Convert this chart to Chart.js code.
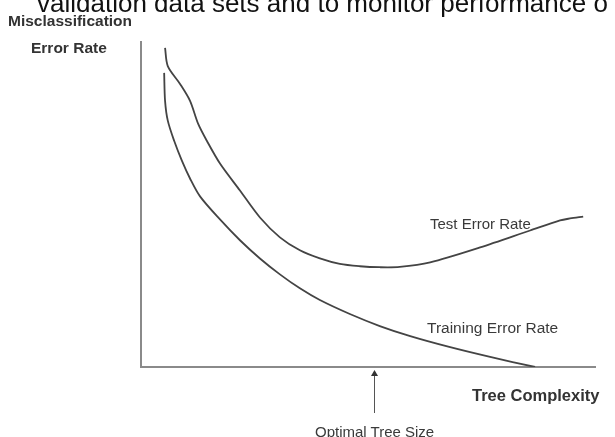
<!DOCTYPE html>
<html>
<head>
<meta charset="utf-8">
<script src="https://cdn.jsdelivr.net/npm/chart.js@4"></script>
<style>
  html, body { margin: 0; padding: 0; background: #fff; }
  #wrap { position: relative; width: 615px; height: 437px; overflow: hidden; font-family: "Liberation Sans", Arial, sans-serif; }
  #wrap canvas { position: absolute; left: 0; top: 0; }
  .lbl { position: absolute; white-space: nowrap; color: #3a3a3a; line-height: 1; }
  .axis { font-weight: bold; font-size: 15.5px; color: #333; }
</style>
</head>
<body>
<div id="wrap">
  <canvas id="errChart" width="615" height="437"></canvas>
  <div class="lbl" style="left:37px; top:-10px; font-size:26px; color:#111;">validation data sets and to monitor performance o</div>
  <div class="lbl axis" style="left:8px; top:13px;">Misclassification</div>
  <div class="lbl axis" style="left:31px; top:40px;">Error Rate</div>
  <div class="lbl axis" style="left:472px; top:387px; font-size:16.5px;">Tree Complexity</div>
  <div class="lbl" style="left:430px; top:216px; font-size:15px;">Test Error Rate</div>
  <div class="lbl" style="left:427px; top:320px; font-size:15.5px;">Training Error Rate</div>
  <div class="lbl" style="left:315px; top:424px; font-size:15px;">Optimal Tree Size</div>
</div>
<script>
// ---- data (complexity 0..100, error rate 0..100) ----
const testX  = [5.3, 5.9, 8.6, 10.8, 12.6, 14.5, 17.4, 21.8, 26.2, 30.6, 35.0, 39.4, 43.8, 48.2, 52.6, 57.0, 63.7, 74.7, 85.7, 92.3, 94.5, 97.4];
const testY  = [98.2, 92.6, 87.1, 81.9, 74.8, 69.6, 62.6, 54.3, 46.0, 39.9, 35.9, 33.4, 31.7, 31.0, 30.7, 30.8, 32.2, 36.8, 42.0, 45.1, 45.7, 46.3];
const trainX = [5.1, 5.3, 5.9, 7.3, 9.0, 10.8, 13.0, 17.4, 21.8, 26.2, 30.6, 35.0, 39.4, 46.0, 52.6, 59.3, 68.1, 76.9, 86.8];
const trainY = [90.5, 81.9, 75.8, 69.6, 63.5, 58.0, 52.5, 45.4, 39.0, 33.4, 28.5, 24.2, 20.6, 16.3, 12.6, 9.5, 6.1, 3.1, 0];
const optimalSize = 51.3;

const toPoints = (xs, ys) => xs.map((x, i) => ({ x: x, y: ys[i] }));

// arrow under the x axis marking the optimal size
const arrowPlugin = {
    id: 'optimalArrow',
    afterDraw(chart) {
        const ctx = chart.ctx;
        const x = Math.round(chart.scales.x.getPixelForValue(optimalSize)) + 0.5;
        const top = chart.chartArea.bottom + 3;
        ctx.save();
        ctx.strokeStyle = '#555';
        ctx.fillStyle = '#333';
        ctx.lineWidth = 1;
        ctx.beginPath();
        ctx.moveTo(x, top + 4);
        ctx.lineTo(x, top + 43);
        ctx.stroke();
        ctx.beginPath();
        ctx.moveTo(x, top);
        ctx.lineTo(x - 3.5, top + 6);
        ctx.lineTo(x + 3.5, top + 6);
        ctx.closePath();
        ctx.fill();
        ctx.restore();
    }
};

const lineStyle = {
    borderColor: '#444',
    borderWidth: 1.8,
    pointRadius: 0,
    fill: false,
    tension: 0.3
};

new Chart(document.getElementById('errChart').getContext('2d'), {
    type: 'line',
    data: {
        datasets: [
            Object.assign({ label: 'Test Error Rate', data: toPoints(testX, testY) }, lineStyle),
            Object.assign({ label: 'Training Error Rate', data: toPoints(trainX, trainY) }, lineStyle)
        ]
    },
    options: {
        responsive: false,
        animation: false,
        events: [],
        layout: { padding: { left: 141, top: 42, right: 20, bottom: 70 } },
        plugins: { legend: { display: false }, tooltip: { enabled: false } },
        scales: {
            x: {
                type: 'linear', min: 0, max: 100,
                grid: { display: false, drawTicks: false, tickLength: 0 },
                ticks: { display: false },
                border: { display: true, color: '#8a8a8a', width: 2 }
            },
            y: {
                type: 'linear', min: 0, max: 100,
                grid: { display: false, drawTicks: false, tickLength: 0 },
                ticks: { display: false },
                border: { display: true, color: '#8a8a8a', width: 2 }
            }
        }
    },
    plugins: [arrowPlugin]
});
</script>
</body>
</html>
